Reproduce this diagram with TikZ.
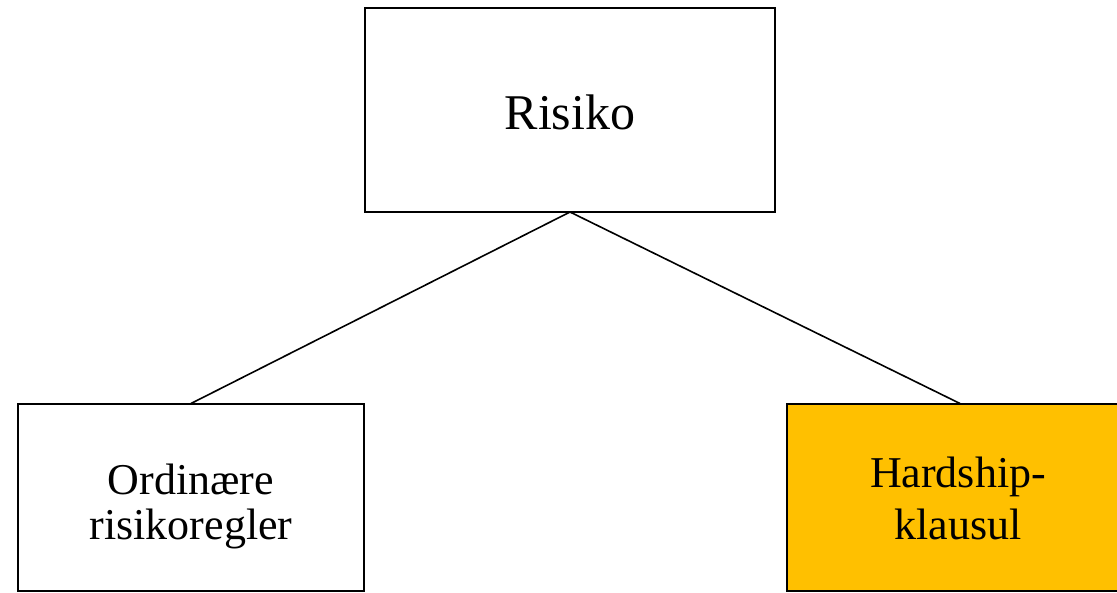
\documentclass[tikz,border=0pt]{standalone}
\usepackage{fontspec}
\setmainfont{Liberation Serif}
\definecolor{boxgold}{HTML}{FFC000}
\newcommand\mytightlines{\lineskiplimit=-100pt\relax}
\begin{document}
\begin{tikzpicture}[x=1pt,y=-1pt,
  box/.style={draw, line width=2pt, rectangle, inner sep=0pt, outer sep=0pt},
  link/.style={line width=1.6pt},
  lbl/.style={anchor=base, align=center, inner sep=0pt}]
\useasboundingbox (0,0) rectangle (1117,592);
\clip (0,0) rectangle (1117,592);
\node[box, minimum width=410pt, minimum height=204pt] (top) at (570,110) {};
\node[box, minimum width=346pt, minimum height=187pt] (left) at (191,497) {};
\node[box, fill=boxgold, minimum width=346pt, minimum height=187pt] (right) at (960,497) {};
\draw[link] (top.south) -- (left.north);
\draw[link] (top.south) -- (right.north);
\node[lbl, font=\fontsize{50}{60}\selectfont] (toptext) at (570,129) {Risiko};
\node[lbl, font=\fontsize{44}{45.5}\selectfont\mytightlines] (lefttext) at (191,539.5) {Ordinære\\risikoregler};
\node[lbl, font=\fontsize{44}{52}\selectfont\mytightlines] (righttext) at (958,539) {Hardship-\\klausul};
\end{tikzpicture}
\end{document}
